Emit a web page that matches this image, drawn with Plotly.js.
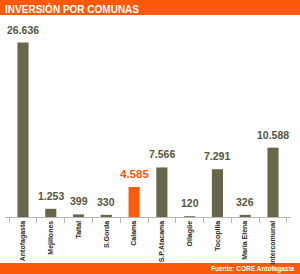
<!DOCTYPE html>
<html>
<head>
<meta charset="utf-8">
<script src="https://cdn.plot.ly/plotly-3.0.1.min.js"></script>
<style>html,body{margin:0;padding:0;background:#fff;}#chart{width:300px;height:274px;}</style>
</head>
<body>
<div id="chart"></div>
<script>
const categories = ["Antofagasta","Mejillones","Taltal","S.Gorda","Calama","S.P.Atacama","Ollagüe","Tocopilla","María Elena","Intercomunal"];
const values = [26636, 1253, 399, 330, 4585, 7566, 120, 7291, 326, 10588];
const valueLabels = ["26.636","1.253","399","330","4.585","7.566","120","7.291","326","10.588"];
const highlight = "Calama";

const FONT = "'Liberation Sans', Arial, sans-serif";
const OLIVE = "#67664a";
const ORANGE = "#fb5a0a";

const colors = categories.map(c => c === highlight ? ORANGE : OLIVE);

const trace = {
  type: "bar",
  x: categories,
  y: values,
  marker: {color: colors},
  width: 0.4,
  hoverinfo: "none"
};

const annotations = categories.map((c, i) => ({
  x: c, y: values[i], xref: "x", yref: "y",
  text: valueLabels[i],
  showarrow: false, yanchor: "bottom", yshift: 5,
  font: {family: FONT, size: c === highlight ? 11.5 : 10.5, weight: 700, color: c === highlight ? ORANGE : "#55553c"}
}));

annotations.push({
  xref: "paper", yref: "paper", xanchor: "right", yanchor: "middle",
  x: 1.022, y: -0.262,
  text: "Fuente: CORE Antofagasta", showarrow: false,
  font: {family: FONT, size: 6.5, weight: 700, color: "#ffffff"}
});

const layout = {
  width: 300, height: 274,
  margin: {l: 5, r: 9, t: 20, b: 57, autoexpand: false},
  paper_bgcolor: "#ffffff", plot_bgcolor: "#ffffff",
  showlegend: false,
  title: {
    text: "INVERSIÓN POR COMUNAS",
    x: 0.017, xref: "container", xanchor: "left",
    y: 0.967, yref: "container", yanchor: "middle", automargin: false,
    font: {family: FONT, size: 10, weight: 700, color: "#ffffff"}
  },
  xaxis: {
    type: "category", automargin: false,
    showline: true, linecolor: "#b8b8b0", linewidth: 1,
    ticks: "outside", tickson: "boundaries", ticklen: 5, tickcolor: "#b8b8b0",
    tickangle: -90,
    tickfont: {family: FONT, size: 7, weight: 700, color: "#2a2a20"},
    showgrid: false, fixedrange: true
  },
  yaxis: {
    range: [0, 30080], visible: false, automargin: false, showgrid: false, zeroline: false, fixedrange: true
  },
  shapes: [
    {type: "rect", xref: "paper", yref: "paper", x0: -0.02, x1: 1.04, y0: 1.025, y1: 1.103, fillcolor: ORANGE, line: {width: 0}, layer: "below"},
    {type: "rect", xref: "paper", yref: "paper", x0: -0.02, x1: 1.04, y0: -0.233, y1: -0.29, fillcolor: ORANGE, line: {width: 0}, layer: "below"}
  ],
  annotations: annotations
};

Plotly.newPlot("chart", [trace], layout, {displayModeBar: false, staticPlot: true});
</script>
</body>
</html>
